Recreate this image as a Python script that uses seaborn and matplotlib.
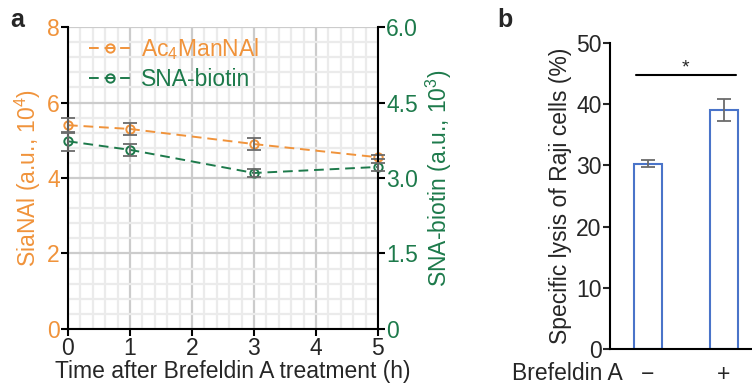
import matplotlib
matplotlib.use("Agg")
import matplotlib.pyplot as plt
import seaborn as sns
import numpy as np
import pandas as pd
from matplotlib.ticker import MultipleLocator, FixedLocator

# Panel a data
time_h = [0, 1, 3, 5]
sianal = [5.4, 5.3, 4.9, 4.55]
sianal_err = [0.2, 0.15, 0.15, 0.05]
sna_biotin = [3.73, 3.56, 3.1, 3.22]
sna_biotin_err = [0.19, 0.12, 0.08, 0.08]

# Panel b data
treatment = ['\u2212', '+']
lysis = [30.3, 39.1]
lysis_err = [0.6, 1.8]

orange = '#F0933B'
green = '#1D7A4B'
blue = '#4A74C9'
errc = '#6b6b6b'
fs = 16.5

sns.set_style('white')
plt.rcParams['font.family'] = ['Liberation Sans', 'DejaVu Sans']
plt.rcParams['mathtext.fontset'] = 'custom'
plt.rcParams['mathtext.rm'] = 'Liberation Sans'
plt.rcParams['mathtext.it'] = 'Liberation Sans'

fig = plt.figure(figsize=(7.52, 3.87), dpi=100)
ax1 = fig.add_axes([0.0904, 0.150, 0.4122, 0.780])
ax2 = ax1.twinx()

df_a = pd.DataFrame({'time': time_h, 'sianal': sianal, 'sna': sna_biotin})

# grid
ax1.set_xlim(0, 5)
ax1.set_ylim(0, 8)
ax2.set_ylim(0, 6)
ax1.xaxis.set_minor_locator(MultipleLocator(0.2))
ax1.yaxis.set_minor_locator(MultipleLocator(0.4))
ax1.grid(True, which='minor', color='#ebebeb', lw=1.6)
ax1.grid(True, which='major', color='#cccccc', lw=1.6)
ax1.set_axisbelow(True)
ax1.tick_params(which='minor', length=0)

sns.lineplot(data=df_a, x='time', y='sianal', ax=ax1, color=orange, lw=1.4,
             dashes=False, linestyle=(0, (5, 3)), marker='o', markersize=6,
             markerfacecolor='none', markeredgecolor=orange, markeredgewidth=1.4,
             label='Ac$_4$ManNAl', clip_on=False, legend=False)
ax1.errorbar(time_h, sianal, yerr=sianal_err, fmt='none', ecolor=errc,
             elinewidth=1.3, capsize=5, capthick=1.3, clip_on=False, zorder=4)

sns.lineplot(data=df_a, x='time', y='sna', ax=ax2, color=green, lw=1.4,
             dashes=False, linestyle=(0, (5, 3)), marker='o', markersize=6,
             markerfacecolor='none', markeredgecolor=green, markeredgewidth=1.4,
             label='SNA-biotin', clip_on=False, legend=False)
ax2.errorbar(time_h, sna_biotin, yerr=sna_biotin_err, fmt='none', ecolor=errc,
             elinewidth=1.3, capsize=5, capthick=1.3, clip_on=False, zorder=4)

ax1.set_yticks([0, 2, 4, 6, 8])
ax2.yaxis.set_major_locator(FixedLocator([0, 1.5, 3.0, 4.5, 6.0]))
ax2.set_yticklabels(['0', '1.5', '3.0', '4.5', '6.0'])
ax1.set_xticks([0, 1, 2, 3, 4, 5])

ax1.spines['top'].set_visible(False)
ax2.spines['top'].set_visible(False)
ax1.spines['right'].set_visible(False)
for s in ['left', 'bottom']:
    ax1.spines[s].set_color('black')
    ax1.spines[s].set_linewidth(1.5)
ax2.spines['right'].set_color('black')
ax2.spines['right'].set_linewidth(1.5)
ax2.spines['left'].set_visible(False)
ax2.spines['bottom'].set_visible(False)

ax1.tick_params(axis='both', which='major', direction='out', length=5, width=1.5,
                color='black', labelsize=fs, left=True, bottom=True, pad=1)
ax1.tick_params(axis='y', labelcolor=orange)
ax2.tick_params(axis='y', direction='out', length=5, width=1.5, color='black',
                labelsize=fs, labelcolor=green, right=True, pad=1)

ax1.set_xlabel('Time after Brefeldin A treatment (h)', fontsize=fs, labelpad=0)
ax1.xaxis.label.set_x(0.53)
ax1.set_ylabel('SiaNAl (a.u., 10$^4$)', fontsize=fs, color=orange, labelpad=3)
ax2.set_ylabel('SNA-biotin (a.u., 10$^3$)', fontsize=fs, color=green, labelpad=4)

h1, l1 = ax1.get_legend_handles_labels()
h2, l2 = ax2.get_legend_handles_labels()
leg = ax2.legend(h1 + h2, l1 + l2, loc='upper left', frameon=False, fontsize=fs,
                 bbox_to_anchor=(0.0, 1.04), handlelength=1.9, handletextpad=0.4,
                 labelspacing=0.3)
for t, c in zip(leg.get_texts(), [orange, green]):
    t.set_color(c)

# Panel b
ax3 = fig.add_axes([0.811, 0.098, 0.189, 0.791])
df_b = pd.DataFrame({'treatment': treatment, 'lysis': lysis})
sns.barplot(data=df_b, x='treatment', y='lysis', ax=ax3, fill=False,
            edgecolor=blue, linewidth=1.5, width=0.37, errorbar=None)
ax3.errorbar([0, 1], lysis, yerr=lysis_err, fmt='none', ecolor=errc,
             elinewidth=1.3, capsize=5, capthick=1.3)
ax3.set_xlim(-0.5, 1.37)
ax3.set_ylim(0, 50)
ax3.set_yticks([0, 10, 20, 30, 40, 50])
ax3.spines['top'].set_visible(False)
ax3.spines['right'].set_visible(False)
for s in ['left', 'bottom']:
    ax3.spines[s].set_linewidth(1.5)
    ax3.spines[s].set_color('black')
ax3.tick_params(axis='y', direction='out', length=5, width=1.5, labelsize=fs,
                left=True, pad=1)
ax3.tick_params(axis='x', length=0, labelsize=fs, pad=10)
ax3.set_xlabel('')
ax3.set_ylabel('Specific lysis of Raji cells (%)', fontsize=fs, labelpad=3)
ax3.plot([-0.16, 1.16], [44.8, 44.8], color='black', lw=1.5)
ax3.text(0.5, 44.6, '*', ha='center', va='bottom', fontsize=14)
fig.text(623 / 752, 1 - 374 / 387, 'Brefeldin A', ha='right', va='center', fontsize=fs)

fig.text(10 / 752, 1 - 20 / 387, 'a', fontsize=18, fontweight='bold', va='center')
fig.text(497 / 752, 1 - 20 / 387, 'b', fontsize=18, fontweight='bold', va='center')

fig.savefig('out.png', dpi=100)
